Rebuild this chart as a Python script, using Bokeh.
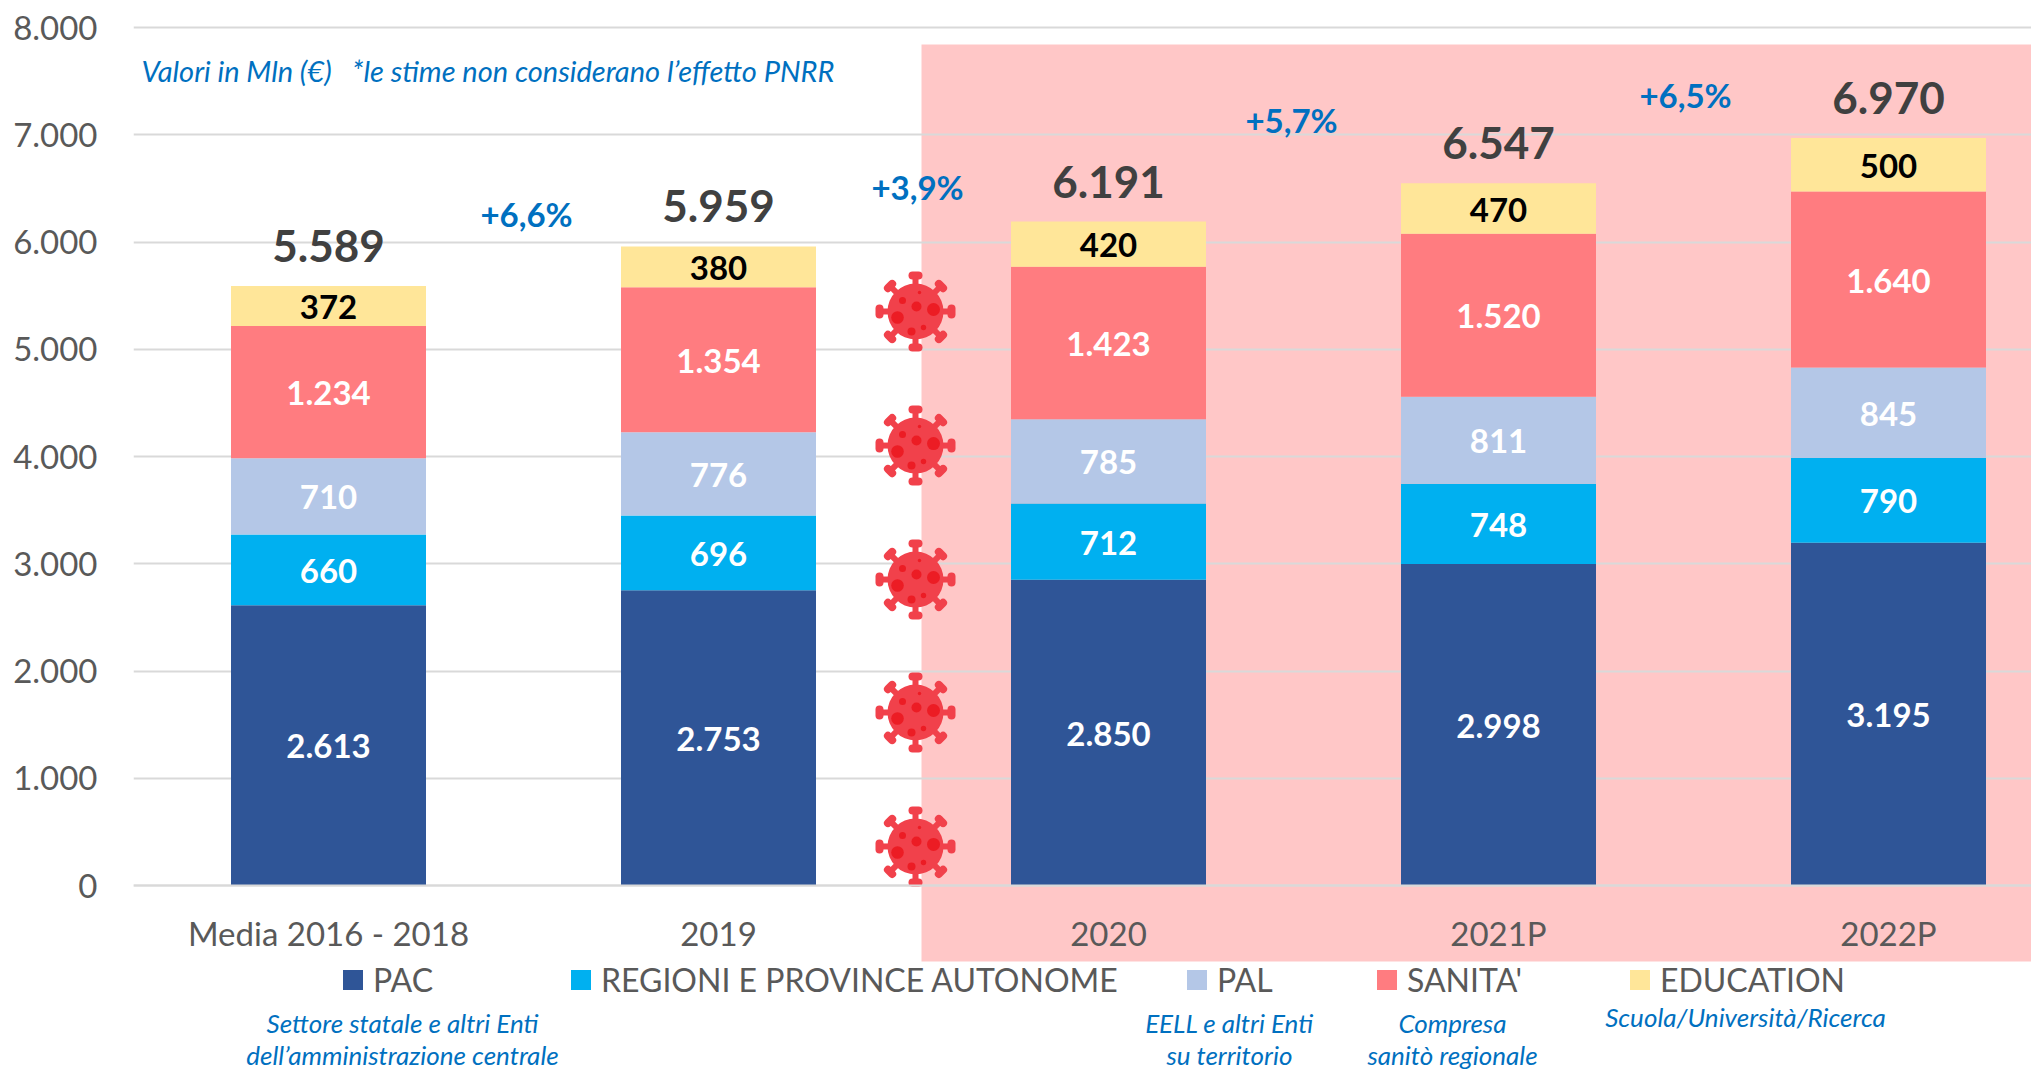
import math
from bokeh.plotting import figure
from bokeh.models import ColumnDataSource, Range1d, FixedTicker, Label, BoxAnnotation, Legend, LegendItem
from bokeh.core.properties import value
from bokeh.embed import file_html
from bokeh.resources import INLINE

categories = ["Media 2016 - 2018", "2019", "2020", "2021P", "2022P"]
PAC = [2613, 2753, 2850, 2998, 3195]
REGIONI = [660, 696, 712, 748, 790]
PAL = [710, 776, 785, 811, 845]
SANITA = [1234, 1354, 1423, 1520, 1640]
EDUCATION = [372, 380, 420, 470, 500]
TOTALS = [5589, 5959, 6191, 6547, 6970]
series_names = ["PAC", "REGIONI E PROVINCE AUTONOME", "PAL", "SANITA'", "EDUCATION"]
series_colors = ["#2F5597", "#00B0F0", "#B4C7E7", "#FF7C80", "#FFE699"]
y_ticks = [0, 1000, 2000, 3000, 4000, 5000, 6000, 7000, 8000]
y_tick_labels = ["0", "1.000", "2.000", "3.000", "4.000", "5.000", "6.000", "7.000", "8.000"]
growth_labels = ["+6,6%", "+3,9%", "+5,7%", "+6,5%"]
virus_levels = [5352, 4102, 2853, 1613, 364]

FONT = "Lato"
W, H = 2031, 1069
PX_LEFT, PX_RIGHT, PX_Y8000, PX_Y0 = 133, W, 27, 885
CAT0, CAT_STEP = 328.0, 390.0
Y_PER_PX = 8000.0 / (PX_Y0 - PX_Y8000)


def X(px):
    return (px - CAT0) / CAT_STEP


def Y(py):
    return (PX_Y0 - py) * Y_PER_PX


p = figure(width=W, height=H, output_backend="svg", toolbar_location=None,
           x_range=Range1d(X(PX_LEFT), X(PX_RIGHT)), y_range=Range1d(Y(H), Y(0)),
           min_border_left=PX_LEFT, min_border_right=0, min_border_top=0, min_border_bottom=0)
p.outline_line_color = None
p.background_fill_color = None
p.border_fill_color = None
p.xgrid.visible = False
p.ygrid.grid_line_color = "#D9D9D9"
p.ygrid.grid_line_width = 2
p.ygrid.ticker = FixedTicker(ticks=y_ticks)

p.yaxis.ticker = FixedTicker(ticks=y_ticks)
p.yaxis.major_label_overrides = dict(zip(y_ticks, y_tick_labels))
p.yaxis.axis_line_color = None
p.yaxis.major_tick_line_color = None
p.yaxis.minor_tick_line_color = None
p.yaxis.major_label_text_font = FONT
p.yaxis.major_label_text_font_size = "33px"
p.yaxis.major_label_text_color = "#595959"
p.yaxis.major_label_standoff = 30

xt = list(range(len(categories)))
p.xaxis.fixed_location = 0
p.xaxis.ticker = FixedTicker(ticks=xt)
p.xaxis.major_label_overrides = dict(zip(xt, categories))
p.xaxis.axis_line_color = "#D9D9D9"
p.xaxis.axis_line_width = 2
p.xaxis.major_tick_line_color = None
p.xaxis.minor_tick_line_color = None
p.xaxis.major_label_text_font = FONT
p.xaxis.major_label_text_font_size = "33px"
p.xaxis.major_label_text_color = "#595959"
p.xaxis.major_label_standoff = 21

# pink period band
p.add_layout(BoxAnnotation(left=X(921), right=X(2040), top=Y(44), bottom=Y(961),
                           fill_color="#FFC7C7", fill_alpha=1, line_color=None, level="image"))

# stacks
cols = ["PAC", "REGIONI", "PAL", "SANITA", "EDUCATION"]
arrays = [PAC, REGIONI, PAL, SANITA, EDUCATION]
src = ColumnDataSource(dict(x=xt, **dict(zip(cols, arrays))))
rs = p.vbar_stack(cols, x="x", width=0.5, color=series_colors, line_color=None, source=src)

# value labels
txt_colors = ["white", "white", "white", "white", "black"]
base = [0] * len(categories)
for arr, col in zip(arrays, txt_colors):
    mids = [b + v / 2 for b, v in zip(base, arr)]
    base = [b + v for b, v in zip(base, arr)]
    s = ColumnDataSource(dict(x=xt, y=mids, t=[f"{v:,}".replace(",", ".") for v in arr]))
    p.text("x", "y", text="t", source=s, text_align="center", text_baseline="middle", y_offset=1,
           text_color=col, text_font=value(FONT), text_font_style="bold", text_font_size="33px")

s = ColumnDataSource(dict(x=xt, y=TOTALS, t=[f"{v:,}".replace(",", ".") for v in TOTALS]))
p.text("x", "y", text="t", source=s, text_align="center", text_baseline="middle", y_offset=-40,
       text_color="#404040", text_font=value(FONT), text_font_style="bold", text_font_size="44px")

# growth labels
for t, (px, py) in zip(growth_labels, [(526, 213), (917, 186), (1291, 119), (1685, 94)]):
    p.add_layout(Label(x=X(px), y=Y(py), text=t, text_align="center", text_baseline="middle",
                       text_color="#0070C0", text_font=FONT, text_font_style="bold", text_font_size="33px"))

# italic notes
notes = [("Valori in Mln (€)\u00a0\u00a0\u00a0*le stime non considerano l’effetto PNRR", 141, 70, "left", 29),
         ("Settore statale e altri Enti", 402, 1022, "center", 26),
         ("dell’amministrazione centrale", 402, 1054, "center", 26),
         ("EELL e altri Enti", 1229, 1022, "center", 26),
         ("su territorio", 1229, 1054, "center", 26),
         ("Compresa", 1452, 1022, "center", 26),
         ("sanitò regionale", 1452, 1054, "center", 26),
         ("Scuola/Università/Ricerca", 1745, 1016, "center", 26)]
for t, px, py, al, fs in notes:
    p.add_layout(Label(x=X(px), y=Y(py), text=t, text_align=al, text_baseline="middle",
                       text_color="#0070C0", text_font=FONT, text_font_style="italic",
                       text_font_size=f"{fs}px"))

# legend: one per series so that the irregular spacing is kept
for name, r, sx in zip(series_names, rs, [340, 568, 1184, 1374, 1627]):
    lg = Legend(items=[LegendItem(label=name, renderers=[r])], location=(sx - PX_LEFT, H - 999),
                orientation="horizontal", background_fill_alpha=0, border_line_alpha=0,
                padding=0, margin=0, glyph_width=25, glyph_height=25, label_standoff=8,
                label_text_font=FONT, label_text_font_size="32px", label_text_color="#595959")
    p.add_layout(lg, "center")

# virus icons
BODY, DARK = "#F1414B", "#EC1C24"
vx = X(915)
dots = [(-13, -11, 3.5), (1, -5, 5), (18, -2, 6.5), (-18, 6, 6.3), (-4, 20, 4), (8, 16, 2.7), (4, -19, 1.7)]
for lvl in virus_levels:
    x0, y0, x1, y1, kx0, ky0, kx1, ky1 = [], [], [], [], [], [], [], []
    for k in range(8):
        a = k * math.pi / 4
        c, sn = math.cos(a), math.sin(a)
        x0.append(vx + 24 * c / CAT_STEP); y0.append(lvl + 24 * sn * Y_PER_PX)
        x1.append(vx + 35 * c / CAT_STEP); y1.append(lvl + 35 * sn * Y_PER_PX)
        kx0.append(vx + (36 * c - 3 * sn) / CAT_STEP); ky0.append(lvl + (36 * sn + 3 * c) * Y_PER_PX)
        kx1.append(vx + (36 * c + 3 * sn) / CAT_STEP); ky1.append(lvl + (36 * sn - 3 * c) * Y_PER_PX)
    p.segment(x0, y0, x1, y1, line_color=BODY, line_width=6)
    p.segment(kx0, ky0, kx1, ky1, line_color=BODY, line_width=8, line_cap="round")
    p.scatter([vx], [lvl], marker="circle", size=56, fill_color=BODY, line_color=None)
    p.scatter([vx + dx / CAT_STEP for dx, _, _ in dots], [lvl - dy * Y_PER_PX for _, dy, _ in dots],
              marker="circle", size=[2 * r for _, _, r in dots], fill_color=DARK, line_color=None)

open("out.html", "w").write(file_html(p, INLINE))
